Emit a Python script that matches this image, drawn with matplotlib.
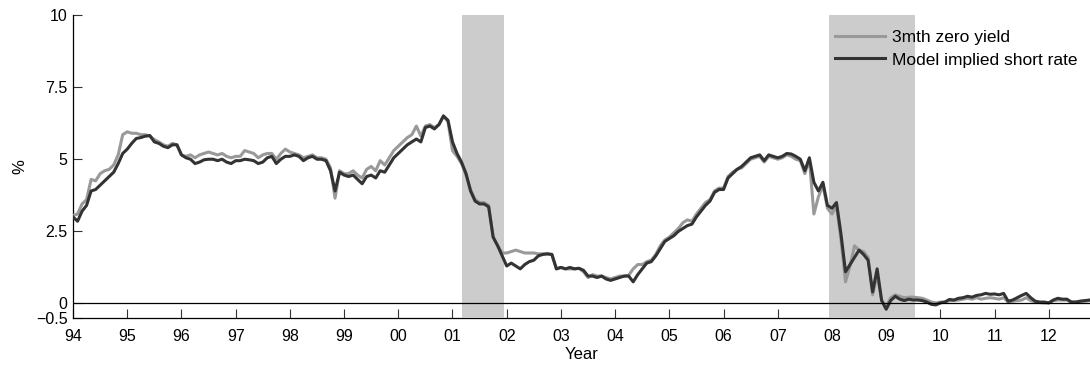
import numpy as np
import matplotlib
matplotlib.use("Agg")
import matplotlib.pyplot as plt

plt.rcParams['font.family'] = ['Liberation Sans', 'DejaVu Sans']

# monthly values, Jan 1994 .. Oct 2012
zero_yield_3m = [
    3.05, 3.10, 3.45, 3.60, 4.30, 4.25, 4.50, 4.60, 4.65, 4.80, 5.15, 5.85,
    5.95, 5.90, 5.90, 5.85, 5.85, 5.80, 5.68, 5.60, 5.50, 5.45, 5.55, 5.50,
    5.15, 5.10, 5.15, 5.05, 5.15, 5.20, 5.25, 5.20, 5.15, 5.20, 5.10, 5.05,
    5.10, 5.10, 5.30, 5.25, 5.20, 5.05, 5.15, 5.20, 5.20, 5.00, 5.20, 5.35,
    5.25, 5.20, 5.15, 5.05, 5.10, 5.15, 5.05, 5.05, 5.00, 4.70, 3.65, 4.60,
    4.50, 4.50, 4.60, 4.45, 4.35, 4.65, 4.75, 4.60, 4.95, 4.80, 5.05, 5.30,
    5.45, 5.60, 5.75, 5.85, 6.15, 5.80, 6.15, 6.20, 6.10, 6.20, 6.50, 6.30,
    5.30, 5.10, 4.85, 4.45, 3.95, 3.60, 3.50, 3.50, 3.40, 2.30, 2.00, 1.75,
    1.75, 1.80, 1.85, 1.80, 1.75, 1.75, 1.75, 1.72, 1.72, 1.72, 1.70, 1.20,
    1.25, 1.20, 1.20, 1.20, 1.22, 1.10, 0.90, 1.00, 0.95, 0.95, 0.90, 0.85,
    0.90, 0.95, 0.95, 0.98, 1.20, 1.35, 1.35, 1.45, 1.50, 1.70, 2.00, 2.20,
    2.30, 2.45, 2.60, 2.80, 2.90, 2.85, 3.10, 3.30, 3.50, 3.60, 3.90, 4.00,
    4.00, 4.40, 4.55, 4.65, 4.70, 4.85, 5.00, 5.05, 5.10, 4.90, 5.10, 5.05,
    5.00, 5.05, 5.15, 5.10, 5.00, 4.95, 4.50, 5.00, 3.10, 3.70, 4.10, 3.30,
    3.10, 3.40, 2.20, 0.75, 1.30, 2.00, 1.85, 1.80, 1.60, 0.30, 1.00, 0.10,
    -0.10, 0.20, 0.30, 0.25, 0.20, 0.22, 0.22, 0.20, 0.18, 0.12, 0.05, 0.02,
    0.05, 0.05, 0.10, 0.10, 0.12, 0.15, 0.18, 0.15, 0.20, 0.15, 0.18, 0.20,
    0.18, 0.15, 0.20, 0.05, 0.08, 0.10, 0.12, 0.20, 0.10, 0.05, 0.03, 0.02,
    0.02, 0.10, 0.12, 0.12, 0.12, 0.05, 0.05, 0.08, 0.08, 0.10,
]
model_short_rate = [
    3.00, 2.85, 3.20, 3.40, 3.90, 3.95, 4.10, 4.25, 4.40, 4.55, 4.85, 5.20,
    5.35, 5.55, 5.72, 5.75, 5.80, 5.82, 5.60, 5.55, 5.45, 5.40, 5.50, 5.50,
    5.15, 5.05, 5.00, 4.85, 4.90, 4.98, 5.00, 5.00, 4.95, 5.00, 4.90, 4.85,
    4.95, 4.95, 5.00, 4.98, 4.95, 4.85, 4.90, 5.05, 5.10, 4.85, 5.00, 5.10,
    5.10, 5.15, 5.10, 4.95, 5.05, 5.10, 5.00, 5.00, 4.95, 4.60, 3.90, 4.55,
    4.45, 4.40, 4.45, 4.30, 4.15, 4.40, 4.45, 4.35, 4.60, 4.55, 4.80, 5.05,
    5.20, 5.35, 5.50, 5.60, 5.70, 5.60, 6.10, 6.15, 6.05, 6.20, 6.50, 6.35,
    5.60, 5.20, 4.90, 4.50, 3.90, 3.55, 3.45, 3.45, 3.35, 2.30, 2.00, 1.65,
    1.30, 1.40, 1.30, 1.20, 1.35, 1.45, 1.50, 1.65, 1.70, 1.72, 1.70, 1.20,
    1.25, 1.20, 1.25, 1.20, 1.22, 1.15, 0.95, 0.95, 0.90, 0.95, 0.85, 0.80,
    0.85, 0.90, 0.95, 0.95, 0.75, 1.00, 1.20, 1.40, 1.45, 1.65, 1.90, 2.15,
    2.25, 2.35, 2.50, 2.60, 2.70, 2.75, 3.00, 3.20, 3.40, 3.55, 3.85, 3.95,
    3.95, 4.35, 4.50, 4.65, 4.75, 4.90, 5.05, 5.10, 5.15, 4.95, 5.15, 5.10,
    5.05, 5.10, 5.20, 5.18, 5.10, 5.00, 4.60, 5.05, 4.20, 3.90, 4.20, 3.40,
    3.30, 3.50, 2.40, 1.10, 1.35, 1.60, 1.85, 1.70, 1.50, 0.40, 1.20, 0.10,
    -0.20, 0.10, 0.25, 0.15, 0.10, 0.15, 0.12, 0.12, 0.10, 0.05, -0.03, -0.05,
    0.02, 0.05, 0.14, 0.12, 0.18, 0.20, 0.25, 0.22, 0.28, 0.30, 0.35, 0.32,
    0.33, 0.30, 0.35, 0.08, 0.12, 0.20, 0.28, 0.35, 0.20, 0.08, 0.05, 0.05,
    0.02, 0.12, 0.18, 0.15, 0.15, 0.05, 0.05, 0.08, 0.10, 0.12,
]
start_year = 1994
recessions = [(2001.17, 2001.95), (2007.94, 2009.53)]
tick_years = list(range(1994, 2013))
tick_labels = ['%02d' % (y % 100) for y in tick_years]
y_ticks = [-0.5, 0, 2.5, 5, 7.5, 10]
y_labels = ['\u22120.5', '0', '2.5', '5', '7.5', '10']


def main():
    x = start_year + np.arange(len(model_short_rate)) / 12.0
    fig = plt.figure(figsize=(10.9, 3.65), dpi=100)
    ax = fig.add_axes([0.067, 0.129, 0.933, 0.83])

    for a, b in recessions:
        ax.axvspan(a, b, color='#cccccc', lw=0, zorder=3)
    ax.axhline(0, color='black', lw=0.9, zorder=6)
    ax.plot(x, zero_yield_3m, color='#999999', lw=2.2, zorder=4,
            label='3mth zero yield')
    ax.plot(x, model_short_rate, color='#333333', lw=2.2, zorder=5,
            label='Model implied short rate')

    ax.set_xlim(1994, 2012.76)
    ax.set_ylim(-0.5, 10)
    ax.set_xticks(tick_years)
    ax.set_xticklabels(tick_labels)
    ax.set_yticks(y_ticks)
    ax.set_yticklabels(y_labels)
    ax.tick_params(direction='in', length=6.5, width=0.8, labelsize=11.5,
                   color='#333333')
    ax.tick_params(axis='x', pad=8)
    ax.tick_params(axis='y', pad=4)
    for s in ['top', 'right']:
        ax.spines[s].set_visible(False)
    ax.spines['left'].set_linewidth(0.9)
    ax.spines['bottom'].set_linewidth(0.9)
    ax.set_xlabel('Year', fontsize=12, labelpad=2)
    ax.set_ylabel('%', fontsize=12, labelpad=6)

    ax.legend(loc='upper left', bbox_to_anchor=(0.749, 0.95),
              frameon=False, fontsize=12.5, borderpad=0, borderaxespad=0,
              handlelength=2.87, handletextpad=0.4, labelspacing=0.41)
    fig.savefig('out.png', dpi=100)


if __name__ == '__main__':
    main()
